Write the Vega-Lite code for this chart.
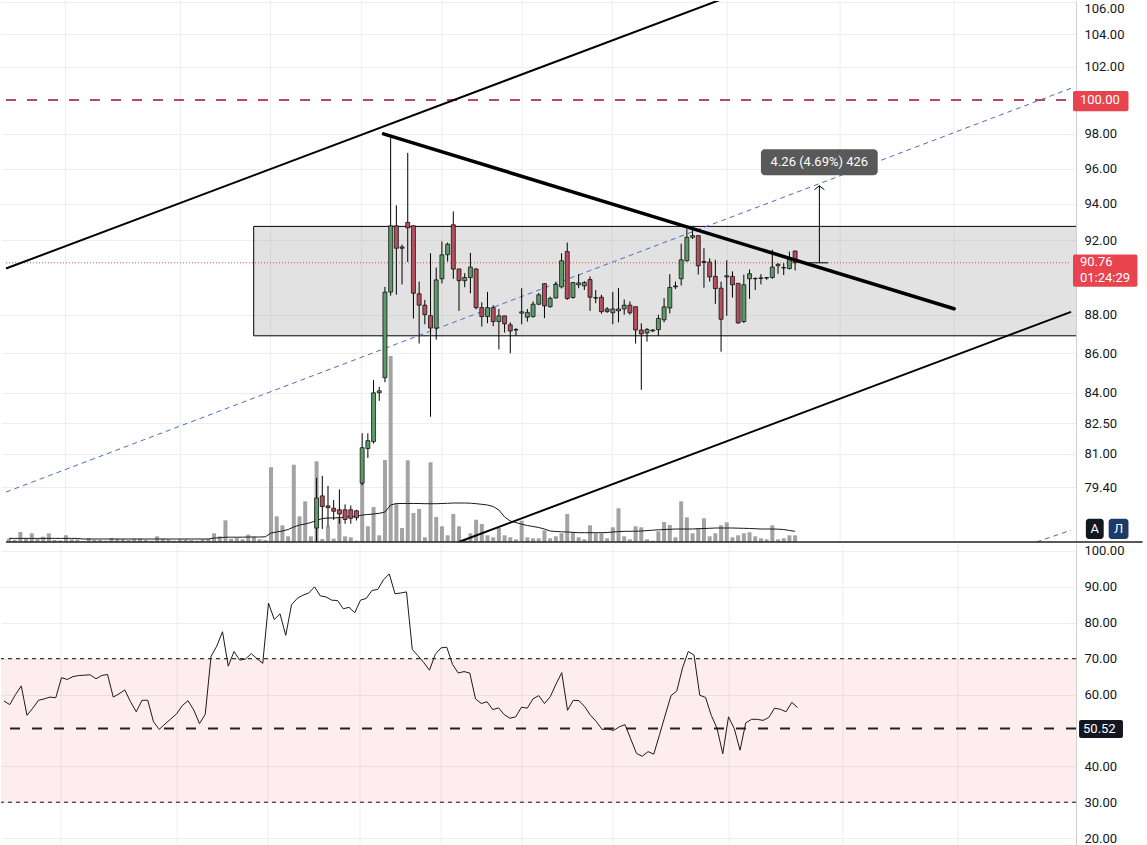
{
"$schema":"https://vega.github.io/schema/vega-lite/v6.json",
"padding":0,
"autosize":{"type":"pad"},
"background":"white",
"spacing":0,
"config":{"view":{"stroke":null},"axis":{"labelFont":"Roboto","labelFontSize":13,"labelColor":"#131722","ticks":false,"domainColor":"#d0d0d0","gridColor":"#eeeeee","labelPadding":8,"labelFlush":false,"labelOverlap":false,"labelBound":false}},
"datasets":{
"gridx":[{"i":9.91},{"i":30.09},{"i":45.91},{"i":61.91},{"i":76.0},{"i":90.09},{"i":105.9},{"i":126.1},{"i":145.9},{"i":165.9}],
"seg":[
{"id":"up","i":-0.522,"p":90.45},{"id":"up","i":131.65,"p":107.07},
{"id":"low","i":78.96,"p":76.86},{"id":"low","i":186.43,"p":88.15},
{"id":"tri","i":65.74,"p":98.0},{"id":"tri","i":165.91,"p":88.31},
{"id":"blue","i":-0.522,"p":79.18},{"id":"blue","i":186.43,"p":100.7},
{"id":"blue2","i":180.35,"p":76.86},{"id":"blue2","i":186.43,"p":77.4},
{"id":"lvl","i":-0.522,"p":100},{"id":"lvl","i":186.43,"p":100},
{"id":"last","i":-0.522,"p":90.76},{"id":"last","i":186.43,"p":90.76},
{"id":"mv","i":142.26,"p":90.76},{"id":"mv","i":142.26,"p":95.02},
{"id":"mb","i":140.0,"p":90.76},{"id":"mb","i":143.8,"p":90.76}
],
"bars":[
{"i":0,"vol":3.3,"vma":3.6,"rsi":58.2},
{"i":1,"vol":2.3,"vma":3.6,"rsi":57.2},
{"i":2,"vol":10,"vma":3.6,"rsi":60.0},
{"i":3,"vol":4,"vma":3.6,"rsi":62.4},
{"i":4,"vol":8.7,"vma":3.6,"rsi":54.2},
{"i":5,"vol":3,"vma":3.6,"rsi":56.2},
{"i":6,"vol":5.3,"vma":3.6,"rsi":58.4},
{"i":7,"vol":8.7,"vma":3.6,"rsi":58.8},
{"i":8,"vol":2,"vma":3.6,"rsi":59.3},
{"i":9,"vol":1.7,"vma":3.6,"rsi":59.1},
{"i":10,"vol":6.7,"vma":3.6,"rsi":64.7},
{"i":11,"vol":2.7,"vma":3.6,"rsi":64.2},
{"i":12,"vol":2.7,"vma":3.6,"rsi":65.0},
{"i":13,"vol":0.7,"vma":3.0,"rsi":65.3},
{"i":14,"vol":4,"vma":3.0,"rsi":65.4},
{"i":15,"vol":2.3,"vma":3.0,"rsi":65.5},
{"i":16,"vol":2,"vma":3.0,"rsi":64.4},
{"i":17,"vol":1.3,"vma":3.0,"rsi":65.3},
{"i":18,"vol":4,"vma":3.0,"rsi":65.6},
{"i":19,"vol":3.3,"vma":3.0,"rsi":59.3},
{"i":20,"vol":2.7,"vma":3.0,"rsi":60.2},
{"i":21,"vol":2,"vma":3.0,"rsi":61.3},
{"i":22,"vol":3.3,"vma":3.0,"rsi":58.0},
{"i":23,"vol":3.3,"vma":3.0,"rsi":55.2},
{"i":24,"vol":2,"vma":3.0,"rsi":58.4},
{"i":25,"vol":1.3,"vma":3.0,"rsi":58.4},
{"i":26,"vol":5.7,"vma":3.0,"rsi":52.4},
{"i":27,"vol":3.3,"vma":3.0,"rsi":50.3},
{"i":28,"vol":2.7,"vma":3.0,"rsi":51.8},
{"i":29,"vol":1.3,"vma":3.0,"rsi":53.2},
{"i":30,"vol":2.7,"vma":3.0,"rsi":54.6},
{"i":31,"vol":2.7,"vma":3.0,"rsi":56.9},
{"i":32,"vol":2,"vma":3.0,"rsi":58.3},
{"i":33,"vol":1.3,"vma":3.0,"rsi":55.7},
{"i":34,"vol":2.7,"vma":3.0,"rsi":51.9},
{"i":35,"vol":3.3,"vma":3.0,"rsi":54.5},
{"i":36,"vol":8.7,"vma":4.0,"rsi":70.6},
{"i":37,"vol":5.7,"vma":4.2,"rsi":73.5},
{"i":38,"vol":21.7,"vma":4.8,"rsi":77.5},
{"i":39,"vol":3.3,"vma":4.8,"rsi":67.9},
{"i":40,"vol":4,"vma":4.8,"rsi":72.0},
{"i":41,"vol":2.7,"vma":4.8,"rsi":69.6},
{"i":42,"vol":7.3,"vma":5.0,"rsi":69.9},
{"i":43,"vol":5.3,"vma":5.0,"rsi":71.4},
{"i":44,"vol":2.7,"vma":5.0,"rsi":70.0},
{"i":45,"vol":2,"vma":5.2,"rsi":68.7},
{"i":46,"vol":74.7,"vma":9,"rsi":85.5},
{"i":47,"vol":25.7,"vma":10,"rsi":80.9},
{"i":48,"vol":16.7,"vma":11,"rsi":82.5},
{"i":49,"vol":5.7,"vma":12.5,"rsi":76.5},
{"i":50,"vol":77.3,"vma":15,"rsi":85.0},
{"i":51,"vol":25.7,"vma":17,"rsi":86.8},
{"i":52,"vol":40.7,"vma":18,"rsi":87.7},
{"i":53,"vol":5.7,"vma":19.5,"rsi":88.3},
{"i":54,"vol":80.7,"vma":21.5,"rsi":90.0,"o":77.5,"h":79.85,"l":76.5,"c":78.9},
{"i":55,"vol":3,"vma":23.5,"rsi":87.5,"o":79.0,"h":79.95,"l":77.46,"c":78.5},
{"i":56,"vol":15.7,"vma":24,"rsi":87.2,"o":78.53,"h":79.47,"l":77.55,"c":78.45},
{"i":57,"vol":3.3,"vma":24,"rsi":86.3,"o":78.42,"h":78.81,"l":77.88,"c":78.28},
{"i":58,"vol":24,"vma":24.5,"rsi":86.2,"o":78.35,"h":79.3,"l":77.7,"c":78.15},
{"i":59,"vol":5.7,"vma":25,"rsi":83.9,"o":78.35,"h":78.6,"l":77.7,"c":77.9},
{"i":60,"vol":4.7,"vma":25.5,"rsi":84.3,"o":78.35,"h":78.55,"l":77.7,"c":77.95},
{"i":61,"vol":1.3,"vma":25.7,"rsi":82.8,"o":78.3,"h":78.35,"l":77.85,"c":77.98},
{"i":62,"vol":59,"vma":27,"rsi":86.3,"o":79.6,"h":82.0,"l":79.5,"c":81.3},
{"i":63,"vol":15.7,"vma":27.5,"rsi":86.8,"o":81.26,"h":82.0,"l":80.8,"c":81.64},
{"i":64,"vol":35,"vma":28,"rsi":89.0,"o":81.59,"h":84.64,"l":81.5,"c":84.0},
{"i":65,"vol":6.7,"vma":28.7,"rsi":89.3,"o":84.0,"h":84.3,"l":83.6,"c":84.1},
{"i":66,"vol":82,"vma":30,"rsi":92.0,"o":84.76,"h":89.47,"l":84.53,"c":89.19},
{"i":67,"vol":186,"vma":37,"rsi":93.6,"o":89.19,"h":97.76,"l":89.0,"c":92.78},
{"i":68,"vol":38.3,"vma":38.5,"rsi":88.1,"o":92.78,"h":93.92,"l":89.05,"c":91.55},
{"i":69,"vol":14,"vma":38.5,"rsi":88.3,"o":91.62,"h":91.75,"l":89.6,"c":91.55},
{"i":70,"vol":81.7,"vma":38.5,"rsi":88.6,"o":92.97,"h":96.9,"l":90.8,"c":92.67},
{"i":71,"vol":29,"vma":38.5,"rsi":72.6,"o":92.78,"h":92.8,"l":87.8,"c":89.13},
{"i":72,"vol":33,"vma":38.5,"rsi":70.8,"o":89.1,"h":89.75,"l":86.5,"c":88.5},
{"i":73,"vol":4.7,"vma":38.3,"rsi":68.9,"o":88.5,"h":88.78,"l":87.5,"c":88.0},
{"i":74,"vol":79.7,"vma":38.3,"rsi":66.8,"o":87.95,"h":91.28,"l":82.81,"c":87.3},
{"i":75,"vol":25,"vma":38.3,"rsi":71.2,"o":87.3,"h":90.5,"l":86.7,"c":89.84},
{"i":76,"vol":15.7,"vma":38.5,"rsi":73.0,"o":89.9,"h":91.92,"l":89.65,"c":91.19},
{"i":77,"vol":6.7,"vma":38.7,"rsi":73.2,"o":91.2,"h":91.86,"l":90.83,"c":91.77},
{"i":78,"vol":28,"vma":39,"rsi":68.4,"o":92.84,"h":93.58,"l":89.9,"c":90.42},
{"i":79,"vol":15.7,"vma":39,"rsi":66.0,"o":90.43,"h":90.43,"l":88.2,"c":89.8},
{"i":80,"vol":2,"vma":39,"rsi":66.4,"o":89.8,"h":90.2,"l":89.45,"c":89.97},
{"i":81,"vol":8.7,"vma":38.8,"rsi":66.0,"o":89.97,"h":91.3,"l":89.13,"c":90.53},
{"i":82,"vol":22.3,"vma":38.3,"rsi":58.8,"o":90.43,"h":90.46,"l":88.28,"c":88.37},
{"i":83,"vol":18,"vma":37.7,"rsi":57.5,"o":88.37,"h":88.65,"l":87.38,"c":87.9},
{"i":84,"vol":6.7,"vma":37,"rsi":58.0,"o":87.9,"h":89.2,"l":87.55,"c":88.37},
{"i":85,"vol":4.7,"vma":35.5,"rsi":55.8,"o":88.37,"h":88.5,"l":87.4,"c":87.64},
{"i":86,"vol":14,"vma":32,"rsi":56.3,"o":87.64,"h":88.3,"l":86.2,"c":87.94},
{"i":87,"vol":6.7,"vma":25,"rsi":54.4,"o":87.94,"h":87.94,"l":87.07,"c":87.52},
{"i":88,"vol":4.7,"vma":21,"rsi":53.4,"o":87.47,"h":87.6,"l":86.0,"c":87.15},
{"i":89,"vol":2.7,"vma":19.5,"rsi":53.8,"o":87.2,"h":87.3,"l":86.9,"c":87.22},
{"i":90,"vol":21.3,"vma":17.8,"rsi":56.5,"o":88.08,"h":89.4,"l":87.5,"c":88.15},
{"i":91,"vol":4.7,"vma":16.5,"rsi":56.2,"o":87.87,"h":88.3,"l":87.64,"c":88.12},
{"i":92,"vol":3.7,"vma":15.5,"rsi":58.8,"o":87.9,"h":88.7,"l":87.85,"c":88.55},
{"i":93,"vol":3.7,"vma":14.5,"rsi":59.7,"o":88.55,"h":89.15,"l":88.5,"c":89.05},
{"i":94,"vol":11.7,"vma":13,"rsi":57.5,"o":89.64,"h":89.66,"l":87.82,"c":88.46},
{"i":95,"vol":3.7,"vma":11,"rsi":59.4,"o":88.42,"h":88.95,"l":88.37,"c":88.86},
{"i":96,"vol":5.7,"vma":10.5,"rsi":62.9,"o":88.88,"h":89.75,"l":88.85,"c":89.6},
{"i":97,"vol":8.7,"vma":10.2,"rsi":66.1,"o":89.47,"h":91.28,"l":89.38,"c":90.87},
{"i":98,"vol":28,"vma":10,"rsi":55.6,"o":91.37,"h":91.86,"l":88.78,"c":88.85},
{"i":99,"vol":9.7,"vma":9.7,"rsi":58.4,"o":88.9,"h":89.72,"l":88.85,"c":89.7},
{"i":100,"vol":4.7,"vma":9.3,"rsi":58.3,"o":89.58,"h":90.15,"l":89.4,"c":89.68},
{"i":101,"vol":2.7,"vma":9.3,"rsi":56.6,"o":89.52,"h":89.78,"l":89.3,"c":89.7},
{"i":102,"vol":16.7,"vma":9.3,"rsi":54.2,"o":89.86,"h":90.03,"l":88.2,"c":88.92},
{"i":103,"vol":8.7,"vma":9.3,"rsi":52.5,"o":88.9,"h":89.3,"l":88.6,"c":88.87},
{"i":104,"vol":8.7,"vma":9.3,"rsi":50.3,"o":88.92,"h":89.05,"l":88.05,"c":88.16},
{"i":105,"vol":3.7,"vma":9.5,"rsi":50.4,"o":88.3,"h":88.4,"l":88.1,"c":88.16},
{"i":106,"vol":14.7,"vma":10,"rsi":50.0,"o":88.1,"h":89.2,"l":87.5,"c":88.3},
{"i":107,"vol":33.7,"vma":10.4,"rsi":51.0,"o":88.2,"h":89.4,"l":87.6,"c":88.3},
{"i":108,"vol":5.7,"vma":10.7,"rsi":51.6,"o":88.3,"h":88.8,"l":88.0,"c":88.5},
{"i":109,"vol":2.7,"vma":10.7,"rsi":47.6,"o":88.5,"h":88.7,"l":88.0,"c":88.1},
{"i":110,"vol":15.7,"vma":10.8,"rsi":43.6,"o":88.42,"h":88.42,"l":86.5,"c":87.2},
{"i":111,"vol":14.7,"vma":11,"rsi":42.8,"o":87.2,"h":87.55,"l":84.15,"c":87.0},
{"i":112,"vol":2.7,"vma":11.4,"rsi":44.1,"o":87.05,"h":87.3,"l":86.6,"c":87.23},
{"i":113,"vol":1.3,"vma":11.8,"rsi":43.4,"o":87.15,"h":87.25,"l":87.1,"c":87.2},
{"i":114,"vol":10.7,"vma":12.2,"rsi":48.8,"o":87.22,"h":88.0,"l":86.9,"c":87.8},
{"i":115,"vol":20,"vma":12.5,"rsi":54.3,"o":87.73,"h":88.87,"l":87.6,"c":88.41},
{"i":116,"vol":17,"vma":12.7,"rsi":59.7,"o":88.35,"h":90.15,"l":88.07,"c":89.44},
{"i":117,"vol":4.7,"vma":13,"rsi":61.0,"o":89.47,"h":89.75,"l":89.35,"c":89.52},
{"i":118,"vol":40.7,"vma":13,"rsi":67.4,"o":89.9,"h":91.8,"l":89.54,"c":90.92},
{"i":119,"vol":24.7,"vma":13,"rsi":72.0,"o":90.87,"h":92.6,"l":90.83,"c":92.15},
{"i":120,"vol":8.7,"vma":13,"rsi":71.0,"o":92.15,"h":92.75,"l":92.05,"c":92.24},
{"i":121,"vol":13.7,"vma":13.3,"rsi":59.8,"o":92.24,"h":92.24,"l":90.13,"c":90.6},
{"i":122,"vol":23.7,"vma":13.5,"rsi":59.2,"o":90.83,"h":91.55,"l":89.42,"c":90.78},
{"i":123,"vol":5.7,"vma":13.7,"rsi":54.2,"o":90.8,"h":91.0,"l":89.75,"c":90.0},
{"i":124,"vol":8.7,"vma":14,"rsi":50.6,"o":90.03,"h":90.92,"l":88.57,"c":89.38},
{"i":125,"vol":16.7,"vma":14,"rsi":43.5,"o":89.4,"h":89.75,"l":86.08,"c":87.76},
{"i":126,"vol":19.7,"vma":14,"rsi":53.8,"o":90.0,"h":90.9,"l":87.94,"c":90.06},
{"i":127,"vol":4.7,"vma":14,"rsi":50.5,"o":90.03,"h":90.3,"l":88.9,"c":89.58},
{"i":128,"vol":6.7,"vma":13.8,"rsi":44.5,"o":89.66,"h":89.66,"l":87.52,"c":87.57},
{"i":129,"vol":8.7,"vma":13.7,"rsi":52.1,"o":87.64,"h":90.12,"l":87.57,"c":89.58},
{"i":130,"vol":9.7,"vma":13.5,"rsi":53.1,"o":89.9,"h":90.4,"l":88.83,"c":90.17},
{"i":131,"vol":5.7,"vma":13.3,"rsi":53.1,"o":89.92,"h":89.97,"l":89.3,"c":89.9},
{"i":132,"vol":3.7,"vma":13,"rsi":52.8,"o":89.95,"h":90.15,"l":89.6,"c":89.92},
{"i":133,"vol":2.7,"vma":13,"rsi":53.6,"o":89.94,"h":90.0,"l":89.85,"c":89.96},
{"i":134,"vol":16.7,"vma":13,"rsi":56.2,"o":89.97,"h":91.47,"l":89.9,"c":90.53},
{"i":135,"vol":2.7,"vma":12.8,"rsi":55.9,"o":90.6,"h":90.74,"l":90.17,"c":90.68},
{"i":136,"vol":3.7,"vma":12.5,"rsi":55.2,"o":90.5,"h":90.74,"l":90.1,"c":90.48},
{"i":137,"vol":6.7,"vma":11.5,"rsi":57.8,"o":90.45,"h":91.37,"l":90.4,"c":91.0},
{"i":138,"vol":6.7,"vma":10.7,"rsi":56.4,"o":91.4,"h":91.42,"l":90.35,"c":90.76}
]
},
"vconcat":[
{
"width":1075,"height":541,
"resolve":{"scale":{"y":"independent"}},
"layer":[
{"layer":[
{"data":{"name":"gridx"},"mark":{"type":"rule","color":"#eeeeee","strokeWidth":1},"encoding":{"x":{"field":"i","type":"quantitative","scale":{"domain":[-0.522,186.43],"nice":false,"zero":false},"axis":null}}},
{"data":{"name":"bars"},"mark":{"type":"bar","width":4,"color":"#a3a3a3"},"encoding":{"x":{"field":"i","type":"quantitative","scale":{"domain":[-0.522,186.43],"nice":false,"zero":false},"axis":null},"y":{"field":"vol","type":"quantitative","scale":{"domain":[0,541],"nice":false},"axis":null}}},
{"data":{"name":"bars"},"mark":{"type":"line","color":"#1a1a1a","strokeWidth":1},"encoding":{"x":{"field":"i","type":"quantitative","scale":{"domain":[-0.522,186.43],"nice":false,"zero":false},"axis":null},"y":{"field":"vma","type":"quantitative","scale":{"domain":[0,541],"nice":false},"axis":null}}}
]},
{"layer":[
{"data":{"values":[{"i":42.96,"i2":188,"p":92.75,"p2":86.9}]},"mark":{"type":"rect","fill":"#9e9e9e","fillOpacity":0.3,"stroke":"#000000","strokeWidth":1,"clip":true},
 "encoding":{"x":{"field":"i","type":"quantitative","scale":{"domain":[-0.522,186.43],"nice":false,"zero":false},"axis":null},"x2":{"field":"i2"},
 "y":{"field":"p","type":"quantitative","scale":{"type":"log","domain":[76.86,106.07],"nice":false,"zero":false},"axis":{"orient":"right","values":[79.4,81,82.5,84,86,88,92,94,96,98,102,104,106],"format":".2f","grid":true,"title":null,"labelAlign":"left","labelBaseline":{"condition":{"test":"datum.value >= 105","value":"top"},"value":"middle"}}},"y2":{"field":"p2"}}},
{"data":{"name":"seg"},"transform":[{"filter":"datum.id=='lvl'"}],"mark":{"type":"line","color":"#c2455f","strokeWidth":2,"strokeDash":[10,11],"clip":true},
 "encoding":{"x":{"field":"i","type":"quantitative","scale":{"domain":[-0.522,186.43],"nice":false,"zero":false},"axis":null},"y":{"field":"p","type":"quantitative","scale":{"type":"log","domain":[76.86,106.07],"nice":false,"zero":false},"axis":{"orient":"right","values":[79.4,81,82.5,84,86,88,92,94,96,98,102,104,106],"format":".2f","grid":true,"title":null,"labelAlign":"left","labelBaseline":{"condition":{"test":"datum.value >= 105","value":"top"},"value":"middle"}}}}},
{"data":{"name":"seg"},"transform":[{"filter":"datum.id=='last'"}],"mark":{"type":"line","color":"#d9534f","strokeWidth":1,"strokeDash":[1,2],"clip":true},
 "encoding":{"x":{"field":"i","type":"quantitative","scale":{"domain":[-0.522,186.43],"nice":false,"zero":false},"axis":null},"y":{"field":"p","type":"quantitative","scale":{"type":"log","domain":[76.86,106.07],"nice":false,"zero":false},"axis":{"orient":"right","values":[79.4,81,82.5,84,86,88,92,94,96,98,102,104,106],"format":".2f","grid":true,"title":null,"labelAlign":"left","labelBaseline":{"condition":{"test":"datum.value >= 105","value":"top"},"value":"middle"}}}}},
{"data":{"name":"seg"},"transform":[{"filter":"datum.id=='blue'"}],"mark":{"type":"line","color":"#4a6dc0","strokeWidth":1,"strokeDash":[5,4],"clip":true},
 "encoding":{"x":{"field":"i","type":"quantitative","scale":{"domain":[-0.522,186.43],"nice":false,"zero":false},"axis":null},"y":{"field":"p","type":"quantitative","scale":{"type":"log","domain":[76.86,106.07],"nice":false,"zero":false},"axis":{"orient":"right","values":[79.4,81,82.5,84,86,88,92,94,96,98,102,104,106],"format":".2f","grid":true,"title":null,"labelAlign":"left","labelBaseline":{"condition":{"test":"datum.value >= 105","value":"top"},"value":"middle"}}}}},
{"data":{"name":"seg"},"transform":[{"filter":"datum.id=='blue2'"}],"mark":{"type":"line","color":"#4a6dc0","strokeWidth":1,"strokeDash":[5,4],"clip":true},
 "encoding":{"x":{"field":"i","type":"quantitative","scale":{"domain":[-0.522,186.43],"nice":false,"zero":false},"axis":null},"y":{"field":"p","type":"quantitative","scale":{"type":"log","domain":[76.86,106.07],"nice":false,"zero":false},"axis":{"orient":"right","values":[79.4,81,82.5,84,86,88,92,94,96,98,102,104,106],"format":".2f","grid":true,"title":null,"labelAlign":"left","labelBaseline":{"condition":{"test":"datum.value >= 105","value":"top"},"value":"middle"}}}}},
{"data":{"name":"seg"},"transform":[{"filter":"datum.id=='up'"}],"mark":{"type":"line","color":"#000000","strokeWidth":2,"clip":true},
 "encoding":{"x":{"field":"i","type":"quantitative","scale":{"domain":[-0.522,186.43],"nice":false,"zero":false},"axis":null},"y":{"field":"p","type":"quantitative","scale":{"type":"log","domain":[76.86,106.07],"nice":false,"zero":false},"axis":{"orient":"right","values":[79.4,81,82.5,84,86,88,92,94,96,98,102,104,106],"format":".2f","grid":true,"title":null,"labelAlign":"left","labelBaseline":{"condition":{"test":"datum.value >= 105","value":"top"},"value":"middle"}}}}},
{"data":{"name":"seg"},"transform":[{"filter":"datum.id=='low'"}],"mark":{"type":"line","color":"#000000","strokeWidth":2,"clip":true},
 "encoding":{"x":{"field":"i","type":"quantitative","scale":{"domain":[-0.522,186.43],"nice":false,"zero":false},"axis":null},"y":{"field":"p","type":"quantitative","scale":{"type":"log","domain":[76.86,106.07],"nice":false,"zero":false},"axis":{"orient":"right","values":[79.4,81,82.5,84,86,88,92,94,96,98,102,104,106],"format":".2f","grid":true,"title":null,"labelAlign":"left","labelBaseline":{"condition":{"test":"datum.value >= 105","value":"top"},"value":"middle"}}}}},
{"data":{"name":"bars"},"transform":[{"filter":"isValid(datum.o)"}],"mark":{"type":"rule","color":"#000000","strokeWidth":1,"clip":true},
 "encoding":{"x":{"field":"i","type":"quantitative","scale":{"domain":[-0.522,186.43],"nice":false,"zero":false},"axis":null},"y":{"field":"l","type":"quantitative","scale":{"type":"log","domain":[76.86,106.07],"nice":false,"zero":false},"axis":{"orient":"right","values":[79.4,81,82.5,84,86,88,92,94,96,98,102,104,106],"format":".2f","grid":true,"title":null,"labelAlign":"left","labelBaseline":{"condition":{"test":"datum.value >= 105","value":"top"},"value":"middle"}}},"y2":{"field":"h"}}},
{"data":{"name":"bars"},"transform":[{"filter":"isValid(datum.o)"}],"mark":{"type":"bar","width":4,"stroke":"#000000","strokeWidth":0.7,"clip":true},
 "encoding":{"x":{"field":"i","type":"quantitative","scale":{"domain":[-0.522,186.43],"nice":false,"zero":false},"axis":null},"y":{"field":"o","type":"quantitative","scale":{"type":"log","domain":[76.86,106.07],"nice":false,"zero":false},"axis":{"orient":"right","values":[79.4,81,82.5,84,86,88,92,94,96,98,102,104,106],"format":".2f","grid":true,"title":null,"labelAlign":"left","labelBaseline":{"condition":{"test":"datum.value >= 105","value":"top"},"value":"middle"}}},"y2":{"field":"c"},
 "fill":{"condition":{"test":"datum.c >= datum.o","value":"#5e9a6a"},"value":"#b3505d"}}},
{"data":{"name":"seg"},"transform":[{"filter":"datum.id=='tri'"}],"mark":{"type":"line","color":"#000000","strokeWidth":3.5,"strokeCap":"round","clip":true},
 "encoding":{"x":{"field":"i","type":"quantitative","scale":{"domain":[-0.522,186.43],"nice":false,"zero":false},"axis":null},"y":{"field":"p","type":"quantitative","scale":{"type":"log","domain":[76.86,106.07],"nice":false,"zero":false},"axis":{"orient":"right","values":[79.4,81,82.5,84,86,88,92,94,96,98,102,104,106],"format":".2f","grid":true,"title":null,"labelAlign":"left","labelBaseline":{"condition":{"test":"datum.value >= 105","value":"top"},"value":"middle"}}}}},
{"data":{"name":"seg"},"transform":[{"filter":"datum.id=='mv'"}],"mark":{"type":"line","color":"#000000","strokeWidth":1,"clip":true},
 "encoding":{"x":{"field":"i","type":"quantitative","scale":{"domain":[-0.522,186.43],"nice":false,"zero":false},"axis":null},"y":{"field":"p","type":"quantitative","scale":{"type":"log","domain":[76.86,106.07],"nice":false,"zero":false},"axis":{"orient":"right","values":[79.4,81,82.5,84,86,88,92,94,96,98,102,104,106],"format":".2f","grid":true,"title":null,"labelAlign":"left","labelBaseline":{"condition":{"test":"datum.value >= 105","value":"top"},"value":"middle"}}}}},
{"data":{"name":"seg"},"transform":[{"filter":"datum.id=='mb'"}],"mark":{"type":"line","color":"#000000","strokeWidth":1,"clip":true},
 "encoding":{"x":{"field":"i","type":"quantitative","scale":{"domain":[-0.522,186.43],"nice":false,"zero":false},"axis":null},"y":{"field":"p","type":"quantitative","scale":{"type":"log","domain":[76.86,106.07],"nice":false,"zero":false},"axis":{"orient":"right","values":[79.4,81,82.5,84,86,88,92,94,96,98,102,104,106],"format":".2f","grid":true,"title":null,"labelAlign":"left","labelBaseline":{"condition":{"test":"datum.value >= 105","value":"top"},"value":"middle"}}}}},
{"data":{"values":[{"i":142.26,"p":95.02}]},"mark":{"type":"point","shape":"M -1 0.8 L 0 0 L 1 0.8","filled":false,"stroke":"#000000","strokeWidth":1,"size":100,"opacity":1},
 "encoding":{"x":{"field":"i","type":"quantitative","scale":{"domain":[-0.522,186.43],"nice":false,"zero":false},"axis":null},"y":{"field":"p","type":"quantitative","scale":{"type":"log","domain":[76.86,106.07],"nice":false,"zero":false},"axis":{"orient":"right","values":[79.4,81,82.5,84,86,88,92,94,96,98,102,104,106],"format":".2f","grid":true,"title":null,"labelAlign":"left","labelBaseline":{"condition":{"test":"datum.value >= 105","value":"top"},"value":"middle"}}}}},
{"data":{"values":[{"i":132.0,"i2":152.5,"p":97.11,"p2":95.62}]},"mark":{"type":"rect","fill":"#595959","cornerRadius":4},
 "encoding":{"x":{"field":"i","type":"quantitative","scale":{"domain":[-0.522,186.43],"nice":false,"zero":false},"axis":null},"x2":{"field":"i2"},"y":{"field":"p","type":"quantitative","scale":{"type":"log","domain":[76.86,106.07],"nice":false,"zero":false},"axis":{"orient":"right","values":[79.4,81,82.5,84,86,88,92,94,96,98,102,104,106],"format":".2f","grid":true,"title":null,"labelAlign":"left","labelBaseline":{"condition":{"test":"datum.value >= 105","value":"top"},"value":"middle"}}},"y2":{"field":"p2"}}},
{"data":{"values":[{"i":142.26,"p":96.36,"t":"4.26 (4.69%) 426"}]},"mark":{"type":"text","color":"#ffffff","font":"Roboto","fontSize":13,"align":"center","baseline":"middle"},
 "encoding":{"x":{"field":"i","type":"quantitative","scale":{"domain":[-0.522,186.43],"nice":false,"zero":false},"axis":null},"y":{"field":"p","type":"quantitative","scale":{"type":"log","domain":[76.86,106.07],"nice":false,"zero":false},"axis":{"orient":"right","values":[79.4,81,82.5,84,86,88,92,94,96,98,102,104,106],"format":".2f","grid":true,"title":null,"labelAlign":"left","labelBaseline":{"condition":{"test":"datum.value >= 105","value":"top"},"value":"middle"}}},"text":{"field":"t"}}},
{"data":{"values":[{"i":186.78,"i2":196.52,"p":100.53,"p2":99.33},{"i":186.78,"i2":198.09,"p":91.21,"p2":89.48}]},"mark":{"type":"rect","fill":"#e8434e","cornerRadius":2,"clip":false},
 "encoding":{"x":{"field":"i","type":"quantitative","scale":{"domain":[-0.522,186.43],"nice":false,"zero":false},"axis":null},"x2":{"field":"i2"},"y":{"field":"p","type":"quantitative","scale":{"type":"log","domain":[76.86,106.07],"nice":false,"zero":false},"axis":{"orient":"right","values":[79.4,81,82.5,84,86,88,92,94,96,98,102,104,106],"format":".2f","grid":true,"title":null,"labelAlign":"left","labelBaseline":{"condition":{"test":"datum.value >= 105","value":"top"},"value":"middle"}}},"y2":{"field":"p2"}}},
{"data":{"values":[{"i":189.04,"i2":192.17,"p":77.93,"p2":77.0}]},"mark":{"type":"rect","fill":"#131722","cornerRadius":3,"clip":false},
 "encoding":{"x":{"field":"i","type":"quantitative","scale":{"domain":[-0.522,186.43],"nice":false,"zero":false},"axis":null},"x2":{"field":"i2"},"y":{"field":"p","type":"quantitative","scale":{"type":"log","domain":[76.86,106.07],"nice":false,"zero":false},"axis":{"orient":"right","values":[79.4,81,82.5,84,86,88,92,94,96,98,102,104,106],"format":".2f","grid":true,"title":null,"labelAlign":"left","labelBaseline":{"condition":{"test":"datum.value >= 105","value":"top"},"value":"middle"}}},"y2":{"field":"p2"}}},
{"data":{"values":[{"i":193.04,"i2":196.52,"p":77.93,"p2":77.0}]},"mark":{"type":"rect","fill":"#1e3a6b","cornerRadius":3,"clip":false},
 "encoding":{"x":{"field":"i","type":"quantitative","scale":{"domain":[-0.522,186.43],"nice":false,"zero":false},"axis":null},"x2":{"field":"i2"},"y":{"field":"p","type":"quantitative","scale":{"type":"log","domain":[76.86,106.07],"nice":false,"zero":false},"axis":{"orient":"right","values":[79.4,81,82.5,84,86,88,92,94,96,98,102,104,106],"format":".2f","grid":true,"title":null,"labelAlign":"left","labelBaseline":{"condition":{"test":"datum.value >= 105","value":"top"},"value":"middle"}}},"y2":{"field":"p2"}}},
{"data":{"values":[{"i":188.0,"p":100,"t":"100.00"},{"i":188.0,"p":90.78,"t":"90.76"},{"i":188.0,"p":89.93,"t":"01:24:29"}]},"mark":{"type":"text","color":"#ffffff","font":"Roboto","fontSize":13,"align":"left","baseline":"middle","clip":false},
 "encoding":{"x":{"field":"i","type":"quantitative","scale":{"domain":[-0.522,186.43],"nice":false,"zero":false},"axis":null},"y":{"field":"p","type":"quantitative","scale":{"type":"log","domain":[76.86,106.07],"nice":false,"zero":false},"axis":{"orient":"right","values":[79.4,81,82.5,84,86,88,92,94,96,98,102,104,106],"format":".2f","grid":true,"title":null,"labelAlign":"left","labelBaseline":{"condition":{"test":"datum.value >= 105","value":"top"},"value":"middle"}}},"text":{"field":"t"}}},
{"data":{"values":[{"i":190.6,"p":77.47,"t":"A"},{"i":194.78,"p":77.47,"t":"Л"}]},"mark":{"type":"text","color":"#ffffff","font":"Roboto","fontSize":13,"align":"center","baseline":"middle","clip":false},
 "encoding":{"x":{"field":"i","type":"quantitative","scale":{"domain":[-0.522,186.43],"nice":false,"zero":false},"axis":null},"y":{"field":"p","type":"quantitative","scale":{"type":"log","domain":[76.86,106.07],"nice":false,"zero":false},"axis":{"orient":"right","values":[79.4,81,82.5,84,86,88,92,94,96,98,102,104,106],"format":".2f","grid":true,"title":null,"labelAlign":"left","labelBaseline":{"condition":{"test":"datum.value >= 105","value":"top"},"value":"middle"}}},"text":{"field":"t"}}},
{"data":{"values":[{"i":-0.522,"i2":199,"p":76.86}]},"mark":{"type":"rule","color":"#222222","strokeWidth":1.5,"clip":false},
 "encoding":{"x":{"field":"i","type":"quantitative","scale":{"domain":[-0.522,186.43],"nice":false,"zero":false},"axis":null},"x2":{"field":"i2"},"y":{"field":"p","type":"quantitative","scale":{"type":"log","domain":[76.86,106.07],"nice":false,"zero":false},"axis":{"orient":"right","values":[79.4,81,82.5,84,86,88,92,94,96,98,102,104,106],"format":".2f","grid":true,"title":null,"labelAlign":"left","labelBaseline":{"condition":{"test":"datum.value >= 105","value":"top"},"value":"middle"}}}}}
]}
]
},
{
"width":1075,"height":302,
"layer":[
{"data":{"name":"gridx"},"mark":{"type":"rule","color":"#eeeeee","strokeWidth":1},"encoding":{"x":{"field":"i","type":"quantitative","scale":{"domain":[-0.522,186.43],"nice":false,"zero":false},"axis":null}}},
{"data":{"values":[{"i":-0.522,"i2":186.43,"v":70,"v2":30}]},"mark":{"type":"rect","fill":"#f23645","fillOpacity":0.09},
 "encoding":{"x":{"field":"i","type":"quantitative","scale":{"domain":[-0.522,186.43],"nice":false,"zero":false},"axis":null},"x2":{"field":"i2"},
 "y":{"field":"v","type":"quantitative","scale":{"domain":[17.8,101.95],"nice":false,"zero":false},"axis":{"orient":"right","values":[20,30,40,60,70,80,90,100],"format":".2f","grid":true,"title":null,"labelAlign":"left"}},"y2":{"field":"v2"}}},
{"data":{"values":[{"v":70},{"v":30}]},"mark":{"type":"rule","color":"#111111","strokeWidth":1,"strokeDash":[4,4]},
 "encoding":{"y":{"field":"v","type":"quantitative","scale":{"domain":[17.8,101.95],"nice":false,"zero":false},"axis":{"orient":"right","values":[20,30,40,60,70,80,90,100],"format":".2f","grid":true,"title":null,"labelAlign":"left"}}}},
{"data":{"values":[{"v":50.52}]},"mark":{"type":"rule","color":"#222222","strokeWidth":2,"strokeDash":[10,12]},
 "encoding":{"y":{"field":"v","type":"quantitative","scale":{"domain":[17.8,101.95],"nice":false,"zero":false},"axis":{"orient":"right","values":[20,30,40,60,70,80,90,100],"format":".2f","grid":true,"title":null,"labelAlign":"left"}}}},
{"data":{"name":"bars"},"mark":{"type":"line","color":"#1a1a1a","strokeWidth":1},
 "encoding":{"x":{"field":"i","type":"quantitative","scale":{"domain":[-0.522,186.43],"nice":false,"zero":false},"axis":null},"y":{"field":"rsi","type":"quantitative","scale":{"domain":[17.8,101.95],"nice":false,"zero":false},"axis":{"orient":"right","values":[20,30,40,60,70,80,90,100],"format":".2f","grid":true,"title":null,"labelAlign":"left"}}}},
{"data":{"values":[{"i":186.96,"i2":194.6,"v":52.89,"v2":47.87}]},"mark":{"type":"rect","fill":"#131722","cornerRadius":2,"clip":false},
 "encoding":{"x":{"field":"i","type":"quantitative","scale":{"domain":[-0.522,186.43],"nice":false,"zero":false},"axis":null},"x2":{"field":"i2"},"y":{"field":"v","type":"quantitative","scale":{"domain":[17.8,101.95],"nice":false,"zero":false},"axis":{"orient":"right","values":[20,30,40,60,70,80,90,100],"format":".2f","grid":true,"title":null,"labelAlign":"left"}},"y2":{"field":"v2"}}},
{"data":{"values":[{"i":187.65,"v":50.4,"t":"50.52"}]},"mark":{"type":"text","color":"#ffffff","font":"Roboto","fontSize":13,"align":"left","baseline":"middle","clip":false},
 "encoding":{"x":{"field":"i","type":"quantitative","scale":{"domain":[-0.522,186.43],"nice":false,"zero":false},"axis":null},"y":{"field":"v","type":"quantitative","scale":{"domain":[17.8,101.95],"nice":false,"zero":false},"axis":{"orient":"right","values":[20,30,40,60,70,80,90,100],"format":".2f","grid":true,"title":null,"labelAlign":"left"}},"text":{"field":"t"}}}
]
}
]
}
